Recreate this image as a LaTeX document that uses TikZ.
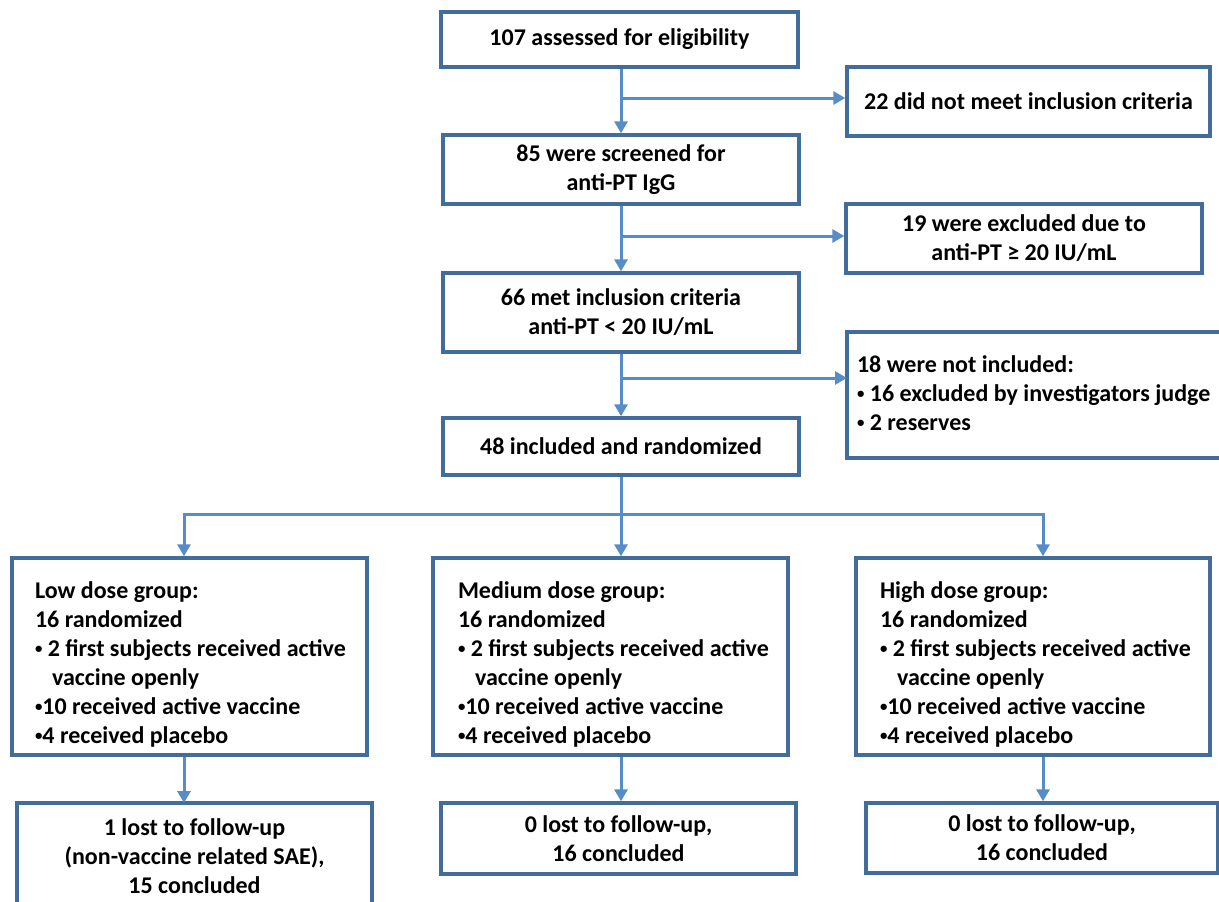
\documentclass[tikz,border=0pt]{standalone}
\usepackage{fontspec}
\usepackage{graphicx}
\setmainfont{Carlito}
\usetikzlibrary{arrows.meta}
\definecolor{bordc}{RGB}{66,108,154}
\definecolor{arrc}{RGB}{86,140,200}
\newcommand\flowfont{\fontsize{24}{29}\selectfont\bfseries}
\newcommand\bul{\raisebox{0.12em}{\scalebox{0.62}{•}}}
\begin{document}
\begin{tikzpicture}[x=1pt,y=-1pt,
  box/.style={draw=bordc, line width=3.4pt, fill=white, inner sep=0pt, align=center, font=\flowfont},
  plain/.style={inner sep=0pt, outer sep=0pt, font=\flowfont},
  gtext/.style={inner sep=0pt, outer sep=0pt, align=left, font=\flowfont},
  border/.style={draw=bordc, line width=3.4pt},
  arr/.style={draw=arrc, line width=3pt, -{Triangle[length=12pt,width=13pt]}}]
\useasboundingbox (0,0) rectangle (1219,902);

% top column
\node[box, minimum width=357pt, minimum height=55pt] (b1) at (619.5,39.5) {107 assessed for eligibility};
\node[box, minimum width=363pt, minimum height=69pt] (b22) at (1028.5,101.5) {22 did not meet inclusion criteria};
\node[box, minimum width=356pt, minimum height=69pt] (b2) at (621,169.5) {85 were screened for\\anti-PT IgG};
\node[box, minimum width=356pt, minimum height=69pt] (b19) at (1024,238.5) {19 were excluded due to\\anti-PT ≥ 20 IU/mL};
\node[box, minimum width=356pt, minimum height=79pt] (b3) at (621,312.5) {66 met inclusion criteria\\anti-PT < 20 IU/mL};
\node[plain, minimum width=390pt, minimum height=126pt, anchor=west] (b18) at (847,395) {};
\draw[border] (b18.north east) -- (b18.north west) -- (b18.south west) -- (b18.south east);
\node[gtext, anchor=west] (b18t) at (857,393)
  {18 were not included:\\\bul\ 16 excluded by investigators judge\\\bul\ 2 reserves};
\node[box, minimum width=356pt, minimum height=57pt] (b4) at (621,446.5) {48 included and randomized};

% groups
\node[box, minimum width=355pt, minimum height=197pt] (low) at (189.5,656.5) {};
\node[gtext, anchor=west] (lowt) at (35,664)
  {Low dose group:\\16 randomized\\\bul\ 2 first subjects received active\\\hspace*{17pt}vaccine openly\\\bul10 received active vaccine\\\bul4 received placebo};
\node[box, minimum width=355pt, minimum height=197pt] (med) at (610.5,656.5) {};
\node[gtext, anchor=west] (medt) at (458,664)
  {Medium dose group:\\16 randomized\\\bul\ 2 first subjects received active\\\hspace*{17pt}vaccine openly\\\bul10 received active vaccine\\\bul4 received placebo};
\node[box, minimum width=354pt, minimum height=197pt] (high) at (1033,656.5) {};
\node[gtext, anchor=west] (hight) at (880,664)
  {High dose group:\\16 randomized\\\bul\ 2 first subjects received active\\\hspace*{17pt}vaccine openly\\\bul10 received active vaccine\\\bul4 received placebo};

% outcomes
\node[plain, align=center, minimum width=355pt, minimum height=106pt] (lowb) at (194.5,856)
  {1 lost to follow-up\\(non-vaccine related SAE),\\15 concluded};
\draw[border] (lowb.south west) -- (lowb.north west) -- (lowb.north east) -- (lowb.south east);
\node[box, minimum width=355pt, minimum height=71pt] (medb) at (618.5,838.5) {0 lost to follow-up,\\16 concluded};
\node[box, minimum width=352pt, minimum height=70pt] (highb) at (1042,838) {0 lost to follow-up,\\16 concluded};

% connectors
\coordinate (j1) at (621,98);
\coordinate (j2) at (621,236);
\coordinate (j3) at (621,378);
\coordinate (j4) at (621,514);
\coordinate (cL) at (184,514);
\coordinate (cH) at (1043,514);

\draw[arr] (b1.south -| j1) -- (b2.north -| j1);
\draw[arr] (j1) -- (j1 -| b22.west);
\draw[arr] (b2.south -| j1) -- (b3.north -| j1);
\draw[arr] (j2) -- (j2 -| b19.west);
\draw[arr] (b3.south -| j1) -- (b4.north -| j1);
\draw[arr] (j3) -- (j3 -| b18.west);
\draw[arr] (b4.south -| j4) -- (j4 |- med.north);
\draw[draw=arrc, line width=3pt, {Triangle[length=12pt,width=13pt]}-{Triangle[length=12pt,width=13pt]}]
  (cL |- low.north) -- (cL) -- (cH) -- (cH |- high.north);
\draw[arr] (cL |- low.south) -- (cL |- lowb.north);
\draw[arr] (med.south -| j4) -- (j4 |- medb.north);
\draw[arr] (cH |- high.south) -- (cH |- highb.north);
\end{tikzpicture}
\end{document}
